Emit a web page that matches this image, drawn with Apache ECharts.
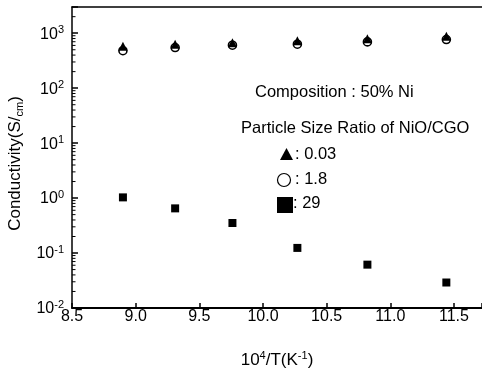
<!DOCTYPE html>
<html><head><meta charset="utf-8">
<script src="https://cdn.jsdelivr.net/npm/echarts@6/dist/echarts.min.js"></script>
<style>html,body{margin:0;padding:0;background:#fff}#c{width:482px;height:369px}</style>
</head><body><div id="c"></div>
<script>
// ---- data ----
const xValues = [8.90, 9.31, 9.76, 10.27, 10.82, 11.44];
const ratio003 = [580, 631, 672, 730, 794, 882];     // triangles
const ratio18 = [481, 549, 605, 631, 695, 768];      // open circles
const ratio29 = [1.03, 0.65, 0.352, 0.124, 0.0615, 0.0291]; // squares
const xTicks = [8.5, 9.0, 9.5, 10.0, 10.5, 11.0, 11.5];
const yTicks = [0.01, 0.1, 1, 10, 100, 1000];
const yMinorTicks = [0.02,0.03,0.04,0.05,0.06,0.07,0.08,0.09,
  0.2,0.3,0.4,0.5,0.6,0.7,0.8,0.9,
  2,3,4,5,6,7,8,9,
  20,30,40,50,60,70,80,90,
  200,300,400,500,600,700,800,900,
  2000];

const font = '"Liberation Sans", Arial, Helvetica, sans-serif';
const pairs = ys => xValues.map((x, i) => [x, ys[i]]);
const chart = echarts.init(document.getElementById('c'), null, {renderer: 'canvas'});

const option = {
  animation: false,
  backgroundColor: '#fff',
  grid: {left: 72, right: 0, top: 7, bottom: 61, containLabel: false, outerBoundsMode: 'none'},
  xAxis: [{
    type: 'value', min: 8.5, max: 11.72, interval: 0.5, position: 'bottom',
    axisLine: {show: true, onZero: false, lineStyle: {color: '#000', width: 2}},
    axisTick: {show: true, inside: true, length: 5, lineStyle: {color: '#000', width: 1.5}},
    axisLabel: {customValues: xTicks, formatter: v => Number(v).toFixed(1), color: '#000', fontSize: 16, fontFamily: font, margin: 1},
    splitLine: {show: false},
    name: '10{sup|4}/T(K{sup|-1})', nameLocation: 'middle', nameGap: 42,
    nameTextStyle: {color: '#000', fontSize: 17, fontFamily: font, lineHeight: 20,
      rich: {sup: {fontSize: 11, fontFamily: font, color: '#000', verticalAlign: 'top', lineHeight: 12}}}
  }, {
    type: 'value', min: 8.5, max: 11.72, position: 'top',
    axisLine: {show: true, onZero: false, lineStyle: {color: '#000', width: 1.5}},
    axisTick: {show: false}, axisLabel: {show: false}, splitLine: {show: false}
  }],
  yAxis: [{
    type: 'log', logBase: 10, min: 0.01, max: 3000, position: 'left',
    axisLine: {show: true, onZero: false, lineStyle: {color: '#000', width: 1.5}},
    axisTick: {show: true, inside: true, length: 6, lineStyle: {color: '#000', width: 1.5}},
    axisLabel: {
      customValues: yTicks,
      formatter: v => {
        const e = Math.log10(v);
        if (Math.abs(e - Math.round(e)) > 1e-6) return '';
        return '{b|10}{s|' + Math.round(e) + '}';
      },
      margin: 8,
      rich: {
        b: {fontSize: 16, fontFamily: font, color: '#000', lineHeight: 18, verticalAlign: 'bottom'},
        s: {fontSize: 11, fontFamily: font, color: '#000', lineHeight: 12, verticalAlign: 'top'}
      }
    },
    splitLine: {show: false},
    name: 'Conductivity(S/{sub|cm})', nameLocation: 'middle', nameGap: 41, nameRotate: 90,
    nameTextStyle: {color: '#000', fontSize: 17, fontFamily: font, lineHeight: 20, padding: [0, 12, 0, 0],
      rich: {sub: {fontSize: 11, fontFamily: font, color: '#000', verticalAlign: 'bottom', lineHeight: 14}}}
  }],
  graphic: [
    {type: 'text', x: 255, y: 92, style: {text: 'Composition : 50% Ni', font: '16.5px ' + font, fill: '#000', textVerticalAlign: 'middle'}},
    {type: 'text', x: 241, y: 128, style: {text: 'Particle Size Ratio of NiO/CGO', font: '16.5px ' + font, fill: '#000', textVerticalAlign: 'middle'}},
    {type: 'polygon', shape: {points: [[280, 160], [293, 160], [286.5, 148]]}, style: {fill: '#000'}},
    {type: 'text', x: 295, y: 154, style: {text: ': 0.03', font: '16.5px ' + font, fill: '#000', textVerticalAlign: 'middle'}},
    {type: 'circle', shape: {cx: 284, cy: 180, r: 6.5}, style: {fill: '#fff', stroke: '#000', lineWidth: 1.2}},
    {type: 'text', x: 295, y: 179, style: {text: ': 1.8', font: '16.5px ' + font, fill: '#000', textVerticalAlign: 'middle'}},
    {type: 'rect', shape: {x: 277, y: 197, width: 16, height: 16}, style: {fill: '#000'}},
    {type: 'text', x: 293, y: 203, style: {text: ': 29', font: '16.5px ' + font, fill: '#000', textVerticalAlign: 'middle'}}
  ],
  series: [
    {name: '1.8', type: 'scatter', data: pairs(ratio18), symbol: 'circle', symbolSize: 8, z: 2,
     itemStyle: {color: '#fff', borderColor: '#000', borderWidth: 1.6, opacity: 1}},
    {name: '0.03', type: 'scatter', data: pairs(ratio003), symbol: 'triangle', symbolSize: [9, 9], z: 3,
     itemStyle: {color: '#000', opacity: 1}},
    {name: '29', type: 'scatter', data: pairs(ratio29), symbol: 'rect', symbolSize: 8, z: 3,
     itemStyle: {color: '#000', opacity: 1}},
    {name: 'minorTicks', type: 'custom', silent: true, z: 4, clip: false,
     data: yMinorTicks.map(v => [8.5, v]),
     renderItem: (params, api) => {
       const p = api.coord([api.value(0), api.value(1)]);
       return {type: 'line', shape: {x1: p[0], y1: p[1], x2: p[0] + 3.5, y2: p[1]},
               style: {stroke: '#000', lineWidth: 1}};
     }}
  ]
};
chart.setOption(option);
</script>
</body></html>
